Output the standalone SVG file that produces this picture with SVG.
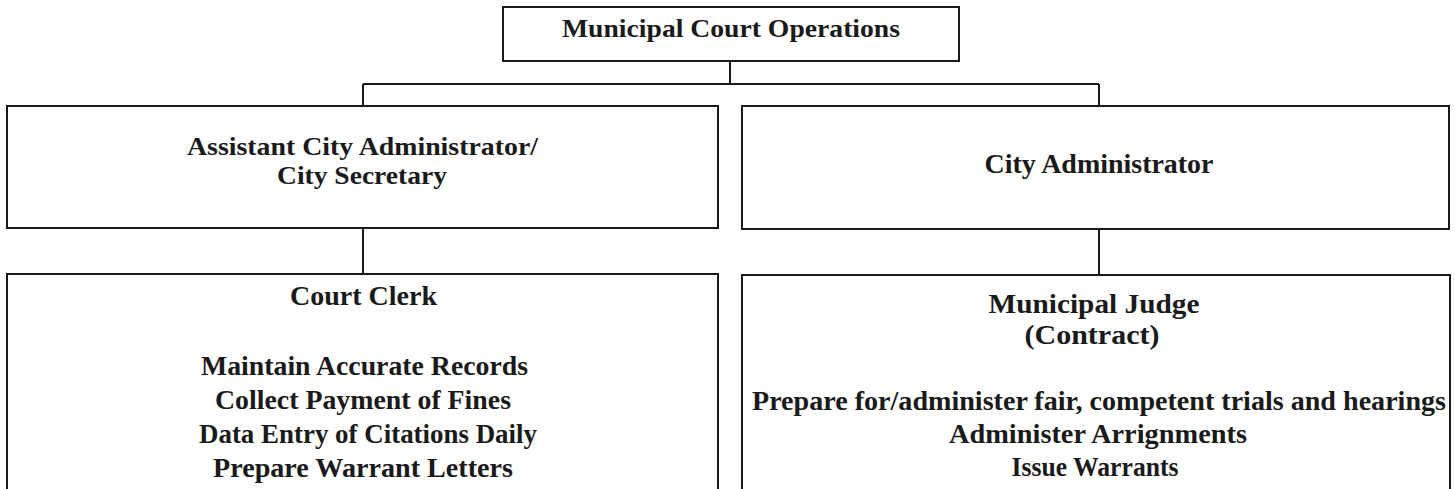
<svg xmlns="http://www.w3.org/2000/svg" width="1455" height="489" viewBox="0 0 1455 489">
  <style>
    .box { fill: #ffffff; stroke: #1a1a1a; stroke-width: 2; }
    .link { fill: none; stroke: #1a1a1a; stroke-width: 2; }
    text { font-family: "Liberation Serif", "Times New Roman", serif; font-weight: bold; fill: #1a1a1a; text-anchor: middle; }
    .t25 { font-size: 25px; }
    .t27 { font-size: 27px; }
  </style>
  <rect width="1455" height="489" fill="#ffffff"/>

  <!-- reporting lines -->
  <g id="connectors">
    <path class="link" d="M730 61 V84"/>
    <path class="link" d="M363 84 H1099"/>
    <path class="link" d="M363 84 V106"/>
    <path class="link" d="M1099 84 V106"/>
    <path class="link" d="M363 228 V274"/>
    <path class="link" d="M1099 229 V275"/>
  </g>

  <g id="node-operations">
    <rect class="box" x="503" y="7" width="456" height="54"/>
    <text class="t25" x="731" y="37" textLength="338" lengthAdjust="spacingAndGlyphs">Municipal Court Operations</text>
  </g>

  <g id="node-assistant-admin">
    <rect class="box" x="7" y="106" width="711" height="122"/>
    <text class="t25" x="362.5" y="155" textLength="351" lengthAdjust="spacingAndGlyphs">Assistant City Administrator/</text>
    <text class="t25" x="362" y="184" textLength="170" lengthAdjust="spacingAndGlyphs">City Secretary</text>
  </g>

  <g id="node-city-admin">
    <rect class="box" x="742" y="106" width="707" height="123"/>
    <text class="t27" x="1099" y="173" textLength="229" lengthAdjust="spacingAndGlyphs">City Administrator</text>
  </g>

  <g id="node-court-clerk">
    <path class="box" d="M7 495 V274 H718 V495"/>
    <text class="t27" x="363.5" y="305" textLength="147" lengthAdjust="spacingAndGlyphs">Court Clerk</text>
    <text class="t27" x="364.5" y="375" textLength="327" lengthAdjust="spacingAndGlyphs">Maintain Accurate Records</text>
    <text class="t27" x="363" y="409" textLength="296" lengthAdjust="spacingAndGlyphs">Collect Payment of Fines</text>
    <text class="t27" x="368" y="443" textLength="338" lengthAdjust="spacingAndGlyphs">Data Entry of Citations Daily</text>
    <text class="t27" x="363" y="477" textLength="300" lengthAdjust="spacingAndGlyphs">Prepare Warrant Letters</text>
  </g>

  <g id="node-municipal-judge">
    <path class="box" d="M742 495 V275 H1450 V495"/>
    <text class="t27" x="1094" y="313" textLength="211" lengthAdjust="spacingAndGlyphs">Municipal Judge</text>
    <text class="t27" x="1092" y="344" textLength="135" lengthAdjust="spacingAndGlyphs">(Contract)</text>
    <text class="t27" x="1099" y="410" textLength="694" lengthAdjust="spacingAndGlyphs">Prepare for/administer fair, competent trials and hearings</text>
    <text class="t27" x="1098" y="443" textLength="298" lengthAdjust="spacingAndGlyphs">Administer Arrignments</text>
    <text class="t27" x="1095" y="476" textLength="167" lengthAdjust="spacingAndGlyphs">Issue Warrants</text>
  </g>
</svg>
